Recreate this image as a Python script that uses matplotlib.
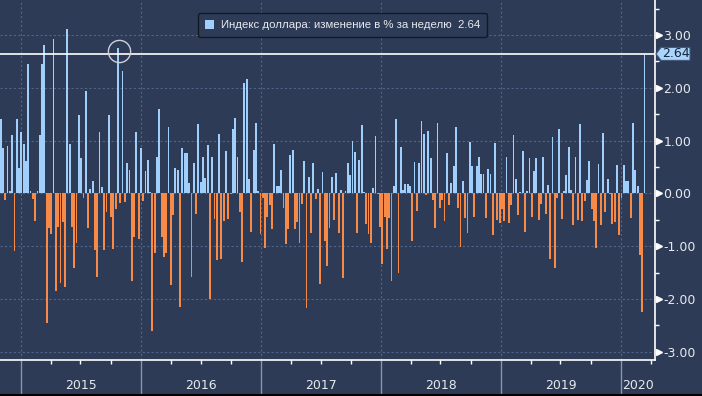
import numpy as np
import pandas as pd
import matplotlib
matplotlib.use('Agg')
import matplotlib.pyplot as plt
import matplotlib.dates as mdates
from matplotlib.patches import Patch, Polygon
from matplotlib.lines import Line2D
from matplotlib.ticker import MultipleLocator
from matplotlib.transforms import IdentityTransform

# Weekly % change of the dollar index, one value per Friday (2014-10-31 .. 2020-03-13)
chg_2014 = [1.40, 0.85, -0.12, 0.90, 0.04, 1.11, -1.10, 1.40, 0.48]

chg_2015 = [1.16, 0.93, 0.62, 2.45, 0.04, -0.10, -0.53, 0.05, 1.11, 2.45,
            2.81, -2.45, -0.65, -0.78, 2.92, -1.85, -0.63, -1.70, -0.55, -1.78,
            3.11, 0.93, -0.63, -1.41, -0.95, 1.49, 0.67, -0.09, 1.93, -0.65,
            0.09, 0.23, -1.08, -1.59, 1.17, 0.11, -1.08, -0.36, 1.49, -0.44,
            -1.06, -0.30, 2.75, -0.18, 2.31, -0.17, 0.57, 0.45, -1.67, -0.82,
            1.17, -0.87]

chg_2016 = [0.86, -0.15, 0.42, 0.63, 0.02, -2.60, -1.14, 0.69, 1.60, -0.82,
            -1.21, -1.14, 1.26, -1.73, -0.41, 0.48, 0.44, -2.16, 0.86, 0.77,
            0.77, 0.19, -1.59, 0.58, -0.39, 1.32, 0.22, 0.69, 0.29, 0.92,
            -2.00, 0.69, -0.49, -1.27, 1.13, -1.25, -0.53, 0.80, -0.48, -0.02,
            1.22, 1.43, 0.69, -0.36, -1.31, 2.08, 2.17, 0.27, -0.73, 0.82,
            1.33, 0.05, -0.78]

chg_2017 = [-0.08, -1.04, -0.44, -0.22, -0.67, 0.94, 0.13, 0.13, 0.44, -0.28,
            -0.96, -0.68, 0.73, 0.82, -0.67, -0.54, -0.94, -0.20, 0.62, -2.17,
            0.31, -0.76, 0.58, -0.10, 0.09, -1.71, 0.40, -0.90, -1.38, -0.65,
            0.31, -0.50, 0.39, -0.76, 0.07, -1.61, 0.05, 0.58, 0.34, 0.99,
            0.79, -0.76, 0.64, 1.30, 0.02, -0.59, -0.78, -0.95, 0.10, 1.09,
            -0.02, -0.63]

chg_2018 = [-1.33, -0.44, -1.06, -0.46, -1.67, 0.13, 1.41, -1.50, 0.88, 0.07,
            0.18, 0.17, 0.13, -0.90, 0.60, -0.33, 0.58, 1.36, 1.13, -0.04,
            1.18, 0.66, -0.12, -0.66, 1.34, -0.28, -0.12, -0.53, 0.77, -0.22,
            0.19, 0.52, 1.26, -0.27, -1.01, 0.23, -0.47, -0.76, 0.97, 0.52,
            -0.44, 0.52, 0.68, 0.37, 0.36, -0.46, 0.46, 0.37, -0.79, 0.96,
            -0.50, -0.57]

chg_2019 = [-0.30, -0.53, 0.69, -0.57, -0.22, 1.11, 0.27, -0.41, 0.03, 0.80,
            -0.74, 0.05, 0.66, -0.44, 0.42, 0.66, -0.50, -0.20, 0.69, -0.39,
            0.15, -1.25, 1.07, -1.41, -0.09, 1.21, -0.49, 0.05, 0.34, 0.88,
            0.07, -0.60, 0.68, -0.51, 1.31, -0.52, -0.15, 0.25, 0.61, -0.30,
            -0.52, -1.04, 0.55, -0.60, 1.15, -0.36, 0.27, -0.01, -0.59, -0.55,
            0.54, -0.79]

chg_2020 = [-0.09, 0.54, 0.24, 0.24, -0.47, 1.34, 0.44, 0.14, -1.16, -2.25, 2.64]

year_labels = ['2015', '2016', '2017', '2018', '2019', '2020']
y_ticks = [-3, -2, -1, 0, 1, 2, 3]
legend_label = 'Индекс доллара: изменение в % за неделю'

values = np.array(chg_2014 + chg_2015 + chg_2016 + chg_2017 + chg_2018 + chg_2019 + chg_2020)
dates = pd.date_range('2014-10-31', periods=len(values), freq='W-FRI')

BG = '#2e3b56'
BLUE = '#9fcffa'
ORANGE = '#f68a46'
GRID = '#50648a'
TEXT = '#e6e9ef'

plt.rcParams['axes.unicode_minus'] = False
plt.rcParams['font.family'] = ['DejaVu Sans']

fig = plt.figure(figsize=(7.02, 3.96), dpi=100, facecolor=BG)
ax = fig.add_axes([0, 36 / 396, 655 / 702, 360 / 396], facecolor=BG)

x_lo, x_hi = pd.Timestamp('2014-10-29'), pd.Timestamp('2020-04-14')
ax.set_xlim(x_lo, x_hi)
ax.set_ylim(-3.157, 3.661)

colors = np.where(values >= 0, BLUE, ORANGE)
ax.bar(dates, values, width=5.6, color=colors, linewidth=0, zorder=3)

# current value line and the earlier week with a similar move
last = values[-1]
ax.axhline(last, color='white', lw=1.2, zorder=4)
idx = np.argmin(np.abs(values[:-1] - last))
ax.plot(dates[idx] + pd.Timedelta(days=4), (values[idx] + last) / 2, marker='o', ms=16,
        mfc='none', mec='#cdd2da', mew=1.0, zorder=5)

# grid
ax.set_yticks(y_ticks)
ax.yaxis.set_minor_locator(MultipleLocator(0.5))
ax.xaxis.set_major_locator(mdates.YearLocator())
ax.xaxis.set_minor_locator(mdates.MonthLocator(bymonth=[4, 7, 10]))
ax.grid(axis='both', which='major', color=GRID, ls=(0, (2, 2)), lw=0.8, zorder=1)

for s in ['top', 'left']:
    ax.spines[s].set_visible(False)
for s in ['right', 'bottom']:
    ax.spines[s].set_color('white')
    ax.spines[s].set_linewidth(1.2)

ax.yaxis.tick_right()
ax.yaxis.set_major_formatter('{x:.2f}')
ax.tick_params(axis='y', which='major', length=0, pad=6, labelcolor=TEXT, labelsize=9)
ax.tick_params(axis='y', which='minor', length=3, color='white', width=1)
ax.tick_params(axis='x', which='major', length=27, color='#8d96a6', width=1, labelbottom=False)
ax.tick_params(axis='x', which='minor', length=3, color='white', width=1)

ax.plot(np.full(len(y_ticks), 1 + 4 / 655), y_ticks, ls='none', marker='>', ms=5,
        color='white', transform=ax.get_yaxis_transform(), clip_on=False, zorder=6)

# year labels centred on the visible part of each year
for yl in year_labels:
    start = max(pd.Timestamp(f'{yl}-01-01'), x_lo)
    end = min(pd.Timestamp(f'{int(yl) + 1}-01-01'), x_hi)
    ax.text(start + (end - start) / 2, -0.072, yl, transform=ax.get_xaxis_transform(),
            ha='center', va='center', color=TEXT, fontsize=9)

# value tag on the right axis
x_d = ax.transAxes.transform((1, 0))[0]
y_d = ax.transData.transform((0, last))[1]
tag = Polygon([(x_d + 1, y_d), (x_d + 6, y_d + 6.5), (x_d + 35, y_d + 6.5),
               (x_d + 35, y_d - 6.5), (x_d + 6, y_d - 6.5)], closed=True,
              facecolor='#aad5fb', edgecolor='#41587a', lw=0.8,
              transform=IdentityTransform(), clip_on=False, zorder=7)
ax.add_artist(tag)
ax.text(1 + 21 / 655, last, f'{last:.2f}', transform=ax.get_yaxis_transform(),
        ha='center', va='center', color='#17223a', fontsize=9, zorder=8, clip_on=False)

leg = ax.legend(handles=[Patch(facecolor=BLUE, edgecolor='none')],
                labels=[f'{legend_label}  {last:.2f}'],
                loc='upper center', bbox_to_anchor=(342.5 / 655, 1 - 13 / 360),
                borderaxespad=0, frameon=True, fancybox=True, framealpha=1,
                facecolor=BG, edgecolor='#141a24',
                prop={'family': 'Liberation Sans', 'size': 8.2}, labelcolor=TEXT,
                handlelength=0.8, handleheight=0.8, handletextpad=0.6, borderpad=0.6)
leg.get_frame().set_linewidth(1.0)
leg.set_zorder(9)

fig.add_artist(Line2D([0, 1], [0.002, 0.002], transform=fig.transFigure, color='black', lw=1.5))

fig.savefig('out.png', dpi=100, facecolor=BG)
